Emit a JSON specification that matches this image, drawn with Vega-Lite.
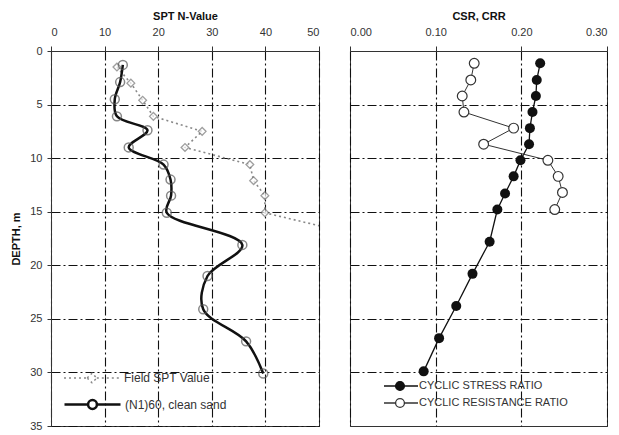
{
  "$schema": "https://vega.github.io/schema/vega-lite/v6.json",
  "background": "white",
  "padding": {"left": 10, "top": 9, "right": 0, "bottom": 4},
  "spacing": 31,
  "bounds": "flush",
  "resolve": {"scale": {"color": "independent", "stroke": "independent"}, "legend": {"color": "independent", "stroke": "independent"}},
  "config": {
    "font": "Liberation Sans",
    "view": {"stroke": "#333", "strokeWidth": 1},
    "axis": {
      "labelFont": "Liberation Sans", "labelFontSize": 11, "labelColor": "#333",
      "titleFont": "Liberation Sans", "titleFontSize": 11, "titleFontWeight": "bold", "titleColor": "#111",
      "domainColor": "#333", "tickColor": "#333", "tickSize": 5,
      "gridColor": "#111", "gridDash": [9, 3, 2, 3], "gridWidth": 1.1, "gridOpacity": 1
    },
    "legend": {"labelFont": "Liberation Sans", "labelColor": "#333", "title": null}
  },
  "datasets": {
    "spt": [
      {"series": "Field SPT Value", "depth": 1.5, "n": 12.3},
      {"series": "Field SPT Value", "depth": 3.0, "n": 14.9},
      {"series": "Field SPT Value", "depth": 4.6, "n": 17.1},
      {"series": "Field SPT Value", "depth": 6.1, "n": 19.1},
      {"series": "Field SPT Value", "depth": 7.5, "n": 28.2},
      {"series": "Field SPT Value", "depth": 9.0, "n": 25.0},
      {"series": "Field SPT Value", "depth": 10.6, "n": 37.1},
      {"series": "Field SPT Value", "depth": 12.1, "n": 37.8},
      {"series": "Field SPT Value", "depth": 13.5, "n": 39.9},
      {"series": "Field SPT Value", "depth": 15.1, "n": 39.9},
      {"series": "Field SPT Value", "depth": 16.9, "n": 55},
      {"series": "(N1)60, clean sand", "depth": 1.3, "n": 13.4},
      {"series": "(N1)60, clean sand", "depth": 2.9, "n": 12.9},
      {"series": "(N1)60, clean sand", "depth": 4.5, "n": 11.9},
      {"series": "(N1)60, clean sand", "depth": 6.1, "n": 12.3},
      {"series": "(N1)60, clean sand", "depth": 7.4, "n": 18.0},
      {"series": "(N1)60, clean sand", "depth": 9.0, "n": 14.5},
      {"series": "(N1)60, clean sand", "depth": 10.6, "n": 21.0},
      {"series": "(N1)60, clean sand", "depth": 12.0, "n": 22.3},
      {"series": "(N1)60, clean sand", "depth": 13.5, "n": 22.4},
      {"series": "(N1)60, clean sand", "depth": 15.1, "n": 21.6},
      {"series": "(N1)60, clean sand", "depth": 18.1, "n": 35.7},
      {"series": "(N1)60, clean sand", "depth": 21.0, "n": 29.2},
      {"series": "(N1)60, clean sand", "depth": 24.1, "n": 28.4},
      {"series": "(N1)60, clean sand", "depth": 27.1, "n": 36.4},
      {"series": "(N1)60, clean sand", "depth": 30.1, "n": 39.6}
    ],
    "ratio": [
      {"series": "CYCLIC STRESS RATIO", "depth": 1.15, "r": 0.222},
      {"series": "CYCLIC STRESS RATIO", "depth": 2.7, "r": 0.218},
      {"series": "CYCLIC STRESS RATIO", "depth": 4.2, "r": 0.217},
      {"series": "CYCLIC STRESS RATIO", "depth": 5.7, "r": 0.213},
      {"series": "CYCLIC STRESS RATIO", "depth": 7.2, "r": 0.210},
      {"series": "CYCLIC STRESS RATIO", "depth": 8.7, "r": 0.209},
      {"series": "CYCLIC STRESS RATIO", "depth": 10.2, "r": 0.199},
      {"series": "CYCLIC STRESS RATIO", "depth": 11.7, "r": 0.191},
      {"series": "CYCLIC STRESS RATIO", "depth": 13.3, "r": 0.181},
      {"series": "CYCLIC STRESS RATIO", "depth": 14.8, "r": 0.172},
      {"series": "CYCLIC STRESS RATIO", "depth": 17.8, "r": 0.163},
      {"series": "CYCLIC STRESS RATIO", "depth": 20.8, "r": 0.143},
      {"series": "CYCLIC STRESS RATIO", "depth": 23.8, "r": 0.124},
      {"series": "CYCLIC STRESS RATIO", "depth": 26.8, "r": 0.104},
      {"series": "CYCLIC STRESS RATIO", "depth": 29.9, "r": 0.086},
      {"series": "CYCLIC RESISTANCE RATIO", "depth": 1.15, "r": 0.145},
      {"series": "CYCLIC RESISTANCE RATIO", "depth": 2.7, "r": 0.141},
      {"series": "CYCLIC RESISTANCE RATIO", "depth": 4.2, "r": 0.131},
      {"series": "CYCLIC RESISTANCE RATIO", "depth": 5.7, "r": 0.133},
      {"series": "CYCLIC RESISTANCE RATIO", "depth": 7.2, "r": 0.191},
      {"series": "CYCLIC RESISTANCE RATIO", "depth": 8.7, "r": 0.156},
      {"series": "CYCLIC RESISTANCE RATIO", "depth": 10.2, "r": 0.231},
      {"series": "CYCLIC RESISTANCE RATIO", "depth": 11.7, "r": 0.243},
      {"series": "CYCLIC RESISTANCE RATIO", "depth": 13.2, "r": 0.248},
      {"series": "CYCLIC RESISTANCE RATIO", "depth": 14.8, "r": 0.239}
    ]
  },
  "hconcat": [
    {
      "width": 268,
      "height": 375,
      "data": {"name": "spt"},
      "encoding": {
        "x": {"field": "n", "type": "quantitative",
              "scale": {"domain": [0, 50], "nice": false, "zero": false},
              "axis": {"orient": "top", "title": "SPT N-Value", "values": [0, 10, 20, 30, 40, 50],
                       "labelPadding": 9, "titlePadding": 5, "grid": true}},
        "y": {"field": "depth", "type": "quantitative",
              "scale": {"domain": [0, 35], "nice": false, "reverse": true},
              "axis": {"title": "DEPTH, m", "values": [0, 5, 10, 15, 20, 25, 30, 35],
                       "tickSize": 4, "labelPadding": 5, "titlePadding": 8, "grid": true}},
        "order": {"field": "depth", "type": "quantitative"}
      },
      "layer": [
        {
          "transform": [{"filter": "datum.series === 'Field SPT Value'"}],
          "mark": {"type": "line", "strokeDash": [2, 3], "strokeWidth": 1.6, "clip": true},
          "encoding": {
            "color": {"field": "series", "type": "nominal",
                      "scale": {"domain": ["Field SPT Value"], "range": ["#888888"]},
                      "legend": {
                        "orient": "none", "legendX": 12, "legendY": 318,
                        "symbolSize": 256, "labelOffset": 43, "labelFontSize": 12,
                        "symbolStrokeWidth": 1.5,
                        "encode": {
                          "symbols": {
                            "update": {
                              "shape": {"value": "M-1,0H1.9M3.1,0H6M1.9,0L2.5,-0.6L3.1,0L2.5,0.6Z"},
                              "strokeDash": {"value": [2, 3]},
                              "fill": {"value": "white"}
                            }
                          }
                        }
                      }}
          }
        },
        {
          "transform": [{"filter": "datum.series !== 'Field SPT Value'"}],
          "mark": {"type": "line", "interpolate": "catmull-rom", "strokeWidth": 2.5},
          "encoding": {
            "stroke": {"field": "series", "type": "nominal",
                      "scale": {"domain": ["(N1)60, clean sand"], "range": ["#111111"]},
                      "legend": {
                        "orient": "none", "legendX": 12, "legendY": 344,
                        "symbolSize": 256, "labelOffset": 43, "labelFontSize": 12,
                        "symbolStrokeWidth": 2.5,
                        "encode": {
                          "symbols": {
                            "update": {
                              "shape": {"value": "M-1,0H1.95M3.05,0H6M1.95,0A0.55,0.55 0 1 1 3.05,0A0.55,0.55 0 1 1 1.95,0"},
                              "fill": {"value": "white"}
                            }
                          }
                        }
                      }}
          }
        },
        {
          "transform": [{"filter": "datum.series === 'Field SPT Value'"}],
          "mark": {"type": "point", "shape": "diamond", "filled": true, "fill": "white", "stroke": "#777", "strokeWidth": 1.3, "size": 60, "clip": true}
        },
        {
          "transform": [{"filter": "datum.series !== 'Field SPT Value'"}],
          "mark": {"type": "point", "shape": "circle", "filled": false, "stroke": "#555", "strokeWidth": 1.5, "size": 80}
        }
      ]
    },
    {
      "width": 257,
      "height": 375,
      "data": {"name": "ratio"},
      "encoding": {
        "x": {"field": "r", "type": "quantitative",
              "scale": {"domain": [0, 0.3], "nice": false},
              "axis": {"orient": "top", "title": "CSR, CRR", "values": [0, 0.1, 0.2, 0.3], "format": ".2f",
                       "labelPadding": 9, "titlePadding": 5, "grid": true}},
        "y": {"field": "depth", "type": "quantitative",
              "scale": {"domain": [0, 35], "nice": false, "reverse": true},
              "axis": {"title": null, "labels": false, "ticks": false, "domain": false,
                       "values": [5, 10, 15, 20, 25, 30], "grid": true}},
        "order": {"field": "depth", "type": "quantitative"}
      },
      "layer": [
        {
          "transform": [{"filter": "datum.series === 'CYCLIC STRESS RATIO'"}],
          "mark": {"type": "line", "strokeWidth": 1.3},
          "encoding": {
            "color": {"field": "series", "type": "nominal",
                      "scale": {"domain": ["CYCLIC STRESS RATIO"], "range": ["#111111"]},
                      "legend": {
                        "orient": "none", "legendX": 33, "legendY": 326,
                        "symbolSize": 256, "labelOffset": 18, "labelFontSize": 11,
                        "symbolStrokeWidth": 1.3,
                        "encode": {
                          "symbols": {
                            "update": {
                              "shape": {"value": "M-1,0H0.45M1.55,0H3.25M0.45,0A0.55,0.55 0 1 1 1.55,0A0.55,0.55 0 1 1 0.45,0"},
                              "fill": {"value": "#111111"}
                            }
                          }
                        }
                      }}
          }
        },
        {
          "transform": [{"filter": "datum.series !== 'CYCLIC STRESS RATIO'"}],
          "mark": {"type": "line", "strokeWidth": 1},
          "encoding": {
            "stroke": {"field": "series", "type": "nominal",
                      "scale": {"domain": ["CYCLIC RESISTANCE RATIO"], "range": ["#333333"]},
                      "legend": {
                        "orient": "none", "legendX": 33, "legendY": 343,
                        "symbolSize": 256, "labelOffset": 18, "labelFontSize": 11,
                        "symbolStrokeWidth": 1.3,
                        "encode": {
                          "symbols": {
                            "update": {
                              "shape": {"value": "M-1,0H0.45M1.55,0H3.25M0.45,0A0.55,0.55 0 1 1 1.55,0A0.55,0.55 0 1 1 0.45,0"},
                              "fill": {"value": "white"}
                            }
                          }
                        }
                      }}
          }
        },
        {
          "transform": [{"filter": "datum.series === 'CYCLIC STRESS RATIO'"}],
          "mark": {"type": "point", "shape": "circle", "filled": true, "color": "#111111", "opacity": 1, "size": 100}
        },
        {
          "transform": [{"filter": "datum.series !== 'CYCLIC STRESS RATIO'"}],
          "mark": {"type": "point", "shape": "circle", "filled": true, "fill": "white", "stroke": "#333", "strokeWidth": 1.2, "opacity": 1, "size": 95}
        }
      ]
    }
  ]
}
